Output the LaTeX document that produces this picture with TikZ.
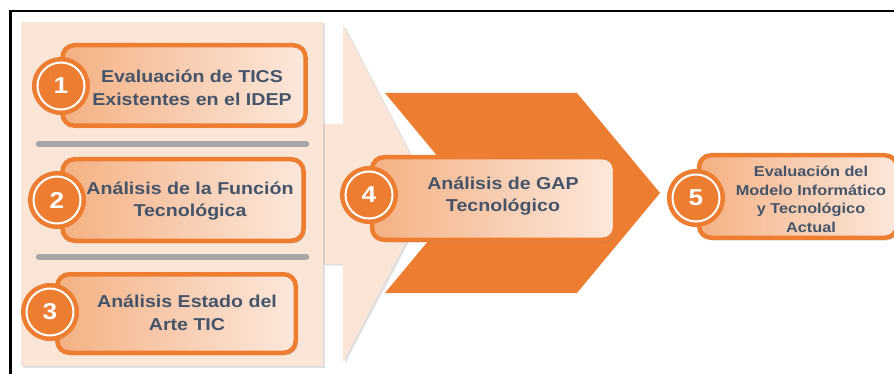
\documentclass[tikz,border=0pt]{standalone}
\usepackage{fontspec}
\setmainfont{Liberation Sans}[FakeStretch=1.14]
\usetikzlibrary{shadows}
\definecolor{org}{HTML}{ED7D31}
\definecolor{peach}{HTML}{FBE5D6}
\definecolor{pdark}{HTML}{F4B183}
\definecolor{plight}{HTML}{FCE8DC}
\definecolor{txt}{HTML}{44546A}
\definecolor{bar}{HTML}{A6A6A6}
\begin{document}
\begin{tikzpicture}[x=1pt,y=-1pt,
  stepbox/.style={draw=org, line width=4.5pt, rounded corners=12pt,
    left color=pdark, right color=plight, inner sep=0pt,
    drop shadow={opacity=0.35, shadow xshift=2pt, shadow yshift=-2.5pt}},
  numcirc/.style={circle, fill=org, minimum size=58pt, inner sep=0pt, text=white,
    font=\bfseries\fontsize{23}{23}\selectfont,
    path picture={\draw[white, line width=2pt] (path picture bounding box.center) circle (23.5pt);}},
  lbl/.style={align=center, text=txt, font=\bfseries\fontsize{17.2}{22.5}\selectfont, inner sep=0pt},
  sepbar/.style={draw=bar, line width=6.5pt, line cap=round},
  bigshape/.style={fill=peach, drop shadow={opacity=0.25, shadow xshift=2pt, shadow yshift=-1.5pt}}
]
\useasboundingbox (0,0) rectangle (894,374);
\fill[white] (0,0) rectangle (894,374);
% frame
\draw[black, line width=2.2pt] (10.5,374) -- (10.5,11) -- (900,11);
% big light arrow
\path[bigshape] (323,124) -- (343,124) -- (343,25) -- (431,194) -- (343,362) -- (343,264) -- (323,264) -- cycle;
\path[bigshape] (21,22) rectangle (323,366);
% orange chevron
\fill[org] (385,93) -- (577,93) -- (660,193) -- (577,293) -- (385,293) -- (468,193) -- cycle;
% separators
\coordinate (s1a) at (39,144); \coordinate (s1b) at (306,144);
\coordinate (s2a) at (39,257); \coordinate (s2b) at (306,257);
\draw[sepbar] (s1a) -- (s1b);
\draw[sepbar] (s2a) -- (s2b);
% boxes
\node[stepbox, minimum width=243pt, minimum height=80.5pt] (b1) at (184,85.5) {};
\node[numcirc] (c1) at (61,86) {1};
\node[lbl] (t1) at (192,88) {Evaluación de TICS\\Existentes en el IDEP};

\node[stepbox, minimum width=241pt, minimum height=81.5pt] (b2) at (183,200) {};
\node[numcirc] (c2) at (57,200) {2};
\node[lbl] (t2) at (190,201) {Análisis de la Función\\Tecnológica};

\node[stepbox, minimum width=238.5pt, minimum height=78.5pt] (b3) at (176.5,313.5) {};
\node[numcirc] (c3) at (50,312) {3};
\node[lbl] (t3) at (187,313) {Análisis Estado del\\Arte TIC};

\node[stepbox, minimum width=243pt, minimum height=82.5pt] (b4) at (493.5,198.5) {};
\node[numcirc] (c4) at (369,195) {4};
\node[lbl] (t4) at (503,196) {Análisis de GAP\\Tecnológico};

\node[stepbox, minimum width=198pt, minimum height=82.5pt] (b5) at (798,196.5) {};
\node[numcirc] (c5) at (696,198) {5};
\node[lbl, font=\bfseries\fontsize{14.3}{18.5}\selectfont] (t5) at (811,199.5) {Evaluación del\\Modelo Informático\\y Tecnológico\\Actual};
\end{tikzpicture}
\end{document}
